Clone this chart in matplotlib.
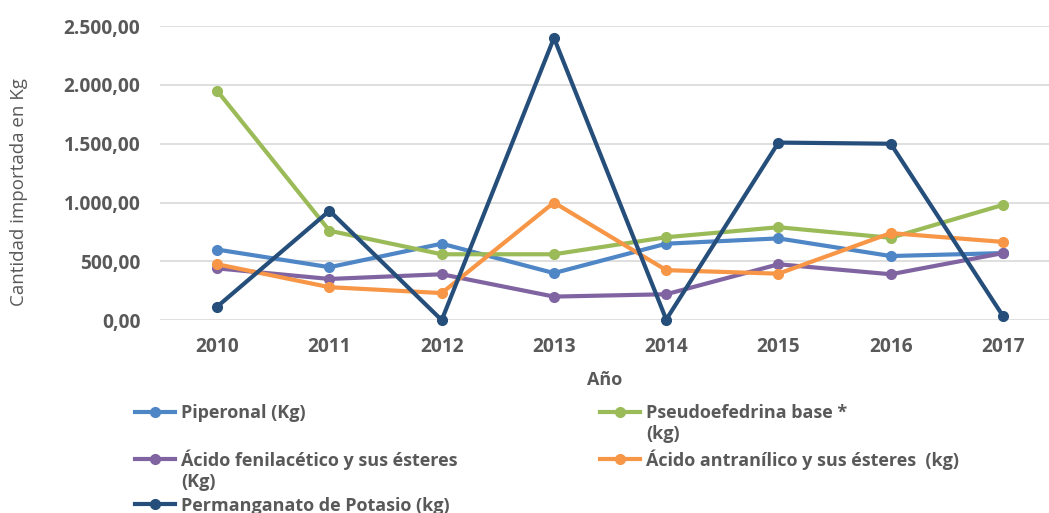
import matplotlib.pyplot as plt
from matplotlib.ticker import FuncFormatter, MultipleLocator

plt.rcParams['font.family'] = ['Open Sans', 'DejaVu Sans']

years = [2010, 2011, 2012, 2013, 2014, 2015, 2016, 2017]
piperonal = [600, 450, 650, 400, 650, 695, 545, 570]
pseudoefedrina = [1950, 760, 560, 560, 705, 790, 700, 980]
fenilacetico = [440, 350, 390, 200, 220, 475, 390, 570]
antranilico = [475, 280, 230, 1000, 425, 395, 740, 665]
permanganato = [115, 930, 0, 2400, 5, 1510, 1500, 35]

labels = ['Piperonal (Kg)', 'Pseudoefedrina base *',
          'Ácido fenilacético y sus ésteres', 'Ácido antranílico y sus ésteres  (kg)',
          'Permanganato de Potasio (kg)']
extra = {1: '(kg)', 2: '(Kg)'}
colors = ['#4F86C6', '#9BBB59', '#8064A2', '#F79646', '#254E7A']
series = [piperonal, pseudoefedrina, fenilacetico, antranilico, permanganato]

txt = '#595959'
fs = 13

fig = plt.figure(figsize=(10.49, 5.13), dpi=100)
ax = fig.add_axes([0.1525, 0.376, 0.8475, 0.573])

lines = []
for s, c, lab in zip(series, colors, labels):
    l, = ax.plot(years, s, color=c, lw=3, marker='o', ms=7, label=lab,
                 solid_joinstyle='round', clip_on=False, zorder=3)
    lines.append(l)

ax.set_ylim(0, 2500)
ax.set_xlim(2009.49, 2017.41)
ax.yaxis.set_major_locator(MultipleLocator(500))
ax.set_xticks(years)

def fmt(v, pos):
    s = '{:,.2f}'.format(v)
    return s.replace(',', 'X').replace('.', ',').replace('X', '.')

ax.yaxis.set_major_formatter(FuncFormatter(fmt))
ax.grid(axis='y', color='#D9D9D9', lw=1.2)
ax.set_axisbelow(True)
for sp in ax.spines.values():
    sp.set_visible(False)
ax.tick_params(length=0, labelsize=13.8, labelcolor=txt)
ax.tick_params(axis='x', pad=12)
ax.tick_params(axis='y', pad=14)
for t in ax.get_xticklabels() + ax.get_yticklabels():
    t.set_fontweight('bold')

ax.set_xlabel('Año', fontsize=fs, fontweight='bold', color=txt, labelpad=10)
ax.set_ylabel('Cantidad importada en Kg', fontsize=13.5, color=txt)
ax.yaxis.set_label_coords(-0.149, 0.435)

# legend: column-major order
order = [0, 2, 4, 1, 3]
leg = fig.legend([lines[i] for i in order], [labels[i] for i in order],
                 ncol=2, loc='upper left', bbox_to_anchor=(0.113, 0.244),
                 frameon=False, handlelength=2.2, handletextpad=0.35,
                 labelspacing=1.5, columnspacing=7.9,
                 prop={'size': fs, 'weight': 'bold'})
for t in leg.get_texts():
    t.set_color(txt)

fig.canvas.draw()
inv = fig.transFigure.inverted()
for i in extra:
    t = leg.get_texts()[order.index(i)]
    bb = t.get_window_extent()
    x0, y0 = inv.transform((bb.x0, bb.y0))
    fig.text(x0, y0 - 0.006, extra[i], ha='left', va='top', fontsize=fs,
             fontweight='bold', color=txt)

fig.savefig('out.png', dpi=100)
